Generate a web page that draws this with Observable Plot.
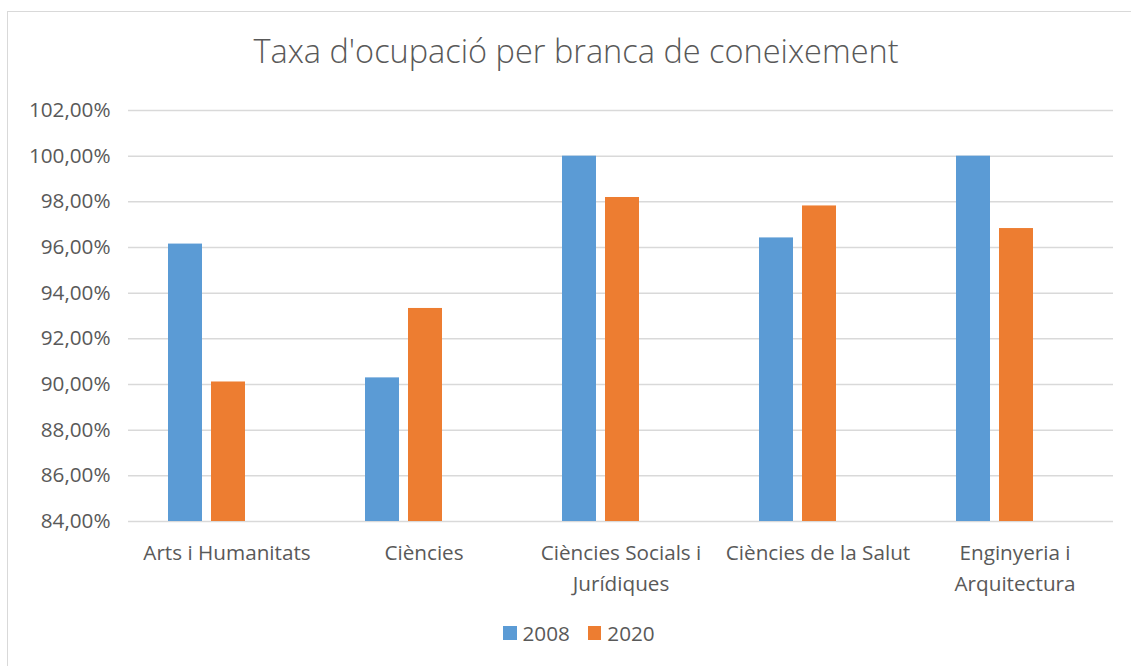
<!DOCTYPE html>
<html>
<head>
<meta charset="utf-8">
<script src="https://cdn.jsdelivr.net/npm/d3@7"></script>
<script src="https://cdn.jsdelivr.net/npm/@observablehq/plot@0.6"></script>
<style>
  html, body { margin: 0; padding: 0; background: #fff; }
  #chart { position: relative; width: 1131px; height: 666px; overflow: hidden; background: #fff;
           font-family: "Open Sans", "Noto Sans", sans-serif; color: #595959; }
  #frame { position: absolute; left: 7px; top: 11px; width: 1300px; height: 1000px;
           border: 1.5px solid #d9d9d9; box-sizing: border-box; }
  #title { position: absolute; left: 0; top: 28.7px; width: 1152px; text-align: center;
           font-size: 32.5px; line-height: 44px; font-weight: 300; color: #595959; white-space: nowrap; }
  #plot { position: absolute; left: 0; top: 90px; }
  #legend { position: absolute; left: 503px; top: 621px; display: flex; align-items: center;
            font-size: 20.7px; line-height: 24px; color: #595959; }
  .sw { width: 13.5px; height: 13.5px; margin-right: 6px; }
  .lab { margin-right: 18px; }
</style>
</head>
<body>
<div id="chart">
  <div id="frame"></div>
  <div id="title"></div>
  <div id="plot"></div>
  <div id="legend"></div>
</div>
<script>
const titleText = "Taxa d'ocupació per branca de coneixement";
const categories = ["Arts i Humanitats", "Ciències", "Ciències Socials i Jurídiques", "Ciències de la Salut", "Enginyeria i Arquitectura"];
const categoryLabels = ["Arts i Humanitats", "Ciències", "Ciències Socials i\nJurídiques", "Ciències de la Salut", "Enginyeria i\nArquitectura"];
const series = ["2008", "2020"];
const values2008 = [96.15, 90.29, 100.00, 96.42, 100.00];
const values2020 = [90.11, 93.33, 98.19, 97.82, 96.83];
const seriesColors = ["#5B9BD5", "#ED7D31"];
const yTicks = [84, 86, 88, 90, 92, 94, 96, 98, 100, 102];

const data = [];
categories.forEach((c, i) => {
  data.push({category: c, series: series[0], value: values2008[i]});
  data.push({category: c, series: series[1], value: values2020[i]});
});

const labelOf = new Map(categories.map((c, i) => [c, categoryLabels[i]]));
const fmt = d => d.toFixed(2).replace(".", ",") + "%";

document.getElementById("title").textContent = titleText;

const chart = Plot.plot({
  width: 1131,
  height: 520,
  marginTop: 20,
  marginBottom: 89,
  marginLeft: 127,
  marginRight: 18,
  style: {fontFamily: "'Open Sans', 'Noto Sans', sans-serif", fontSize: "20.7px", color: "#595959", background: "transparent"},
  fx: {domain: categories, padding: 0},
  x: {domain: series, paddingInner: 0.2148, paddingOuter: 1.3846, align: 0.3344, axis: null},
  y: {domain: [yTicks[0], yTicks[yTicks.length - 1]], ticks: yTicks},
  color: {domain: series, range: seriesColors},
  marks: [
    Plot.gridY(yTicks, {stroke: "#d9d9d9", strokeOpacity: 1, strokeWidth: 1.5}),
    Plot.barY(data, {fx: "category", x: "series", y: "value", fill: "series", clip: true}),
    Plot.axisY(yTicks, {anchor: "left", tickSize: 0, tickPadding: 18, tickFormat: fmt, label: null}),
    Plot.axisFx({anchor: "bottom", tickSize: 0, tickPadding: 16, lineHeight: 1.5, tickFormat: d => labelOf.get(d), label: null})
  ]
});
document.getElementById("plot").appendChild(chart);

const legend = document.getElementById("legend");
series.forEach((s, i) => {
  const sw = document.createElement("div");
  sw.className = "sw";
  sw.style.background = seriesColors[i];
  const lab = document.createElement("span");
  lab.className = "lab";
  lab.textContent = s;
  legend.appendChild(sw);
  legend.appendChild(lab);
});
</script>
</body>
</html>
